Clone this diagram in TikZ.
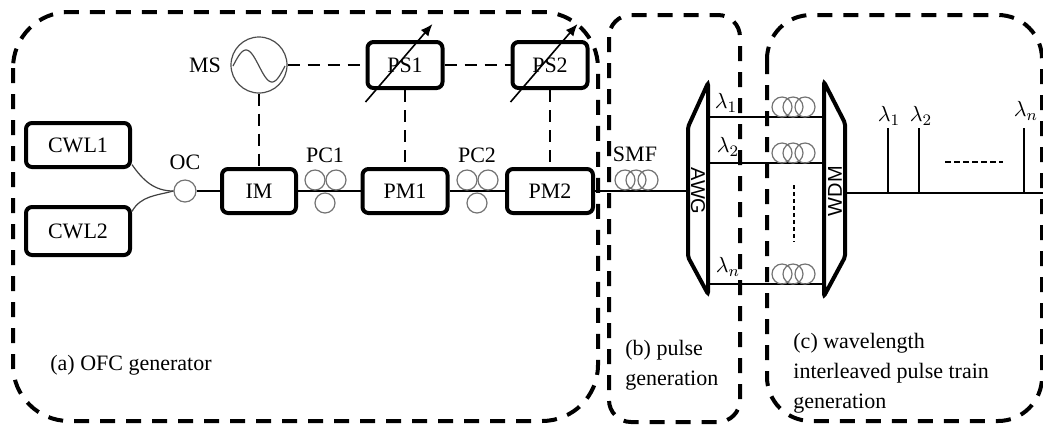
\documentclass[tikz,border=0pt]{standalone}
\usepackage{fontspec}
\setmainfont{Liberation Serif}
\newfontfamily\arialfont{Liberation Sans}
\usepackage{tikz}
\usetikzlibrary{arrows.meta,backgrounds}
\newcommand{\coilcolor}{black!55}
\newcommand{\boxline}{2pt}
\newcommand{\fibreline}{1pt}
\newcommand{\coil}{5pt}

\tikzset{
  dev/.style={draw, line width=\boxline, rounded corners=3pt, minimum height=22pt, inner sep=0pt},
  section/.style={line width=\boxline, dash pattern=on 7.5pt off 5.5pt},
  control/.style={line width=1.3pt, dash pattern=on 6pt off 4pt},
  fibre/.style={line width=\fibreline},
  coilring/.style={draw=\coilcolor, line width=0.6pt},
  lbl/.style={inner sep=0pt}
}

\begin{document}
\begin{tikzpicture}[x=0.5pt, y=-0.5pt, font=\fontsize{11}{15}\selectfont]
\useasboundingbox (0, 0) rectangle (1043, 425);
%sections
\draw[section, rounded corners=28pt] (13, 12) rectangle (598, 421);
\draw[section, rounded corners=11pt] (609, 15) rectangle (740, 422);
\draw[section, rounded corners=22pt] (767, 15) rectangle (1042, 421);
%devices
\node (cwl1) at (78, 145) [dev, minimum width=52pt] {CWL1};
\node (cwl2) at (78, 231) [dev, minimum width=52pt, minimum height=24pt] {CWL2};
\node (oc) at (185, 191) [circle, coilring, minimum size=11pt, inner sep=0pt] {};
\node (im) at (259, 191) [dev, minimum width=37pt] {IM};
\node (pm1) at (405, 191) [dev, minimum width=42.5pt] {PM1};
\node (pm2) at (550, 191) [dev, minimum width=43pt] {PM2};
\node (ps1) at (405, 65) [dev, minimum width=37.5pt, minimum height=23pt] {PS1};
\node (ps2) at (550, 65) [dev, minimum width=37.5pt, minimum height=23pt] {PS2};
\node (ms) at (259, 65) [circle, draw=black!70, line width=0.6pt, minimum size=28pt, inner sep=0pt] {};
\draw[black!70, line width=0.6pt] plot[domain=0:360, samples=50] ({233+0.14444*\x}, {66-16*sin(\x)});
%labels
\node (mslabel) at (205, 65) [lbl] {MS};
\node (oclabel) at (185, 162) [lbl] {OC};
\node (pc1label) at (325, 155) [lbl] {PC1};
\node (pc2label) at (477, 155) [lbl] {PC2};
\node (smflabel) at (635, 154) [lbl] {SMF};
%tuning arrows
\draw[line width=0.8pt, -{Latex[length=6pt, width=5pt]}] ([shift={(0, 12)}]ps1.south west) -- ([shift={(-12, -16)}]ps1.north east);
\draw[line width=0.8pt, -{Latex[length=6pt, width=5pt]}] ([shift={(0, 12)}]ps2.south west) -- ([shift={(-12, -16)}]ps2.north east);
%control lines
\draw[control] (ms.south) -- (im.north);
\draw[control] (ms.east) -- (ps1.west);
\draw[control] (ps1.east) -- (ps2.west);
\draw[control] (ps1.south) -- (pm1.north);
\draw[control] (ps2.south) -- (pm2.north);
%fibre
\draw[black!75, line width=0.6pt] (cwl1.-20) to[out=-55, in=180] (oc.west);
\draw[black!75, line width=0.6pt] (cwl2.20) to[out=60, in=195] (oc.west);
\coordinate (awgin) at (688, 191);
\draw[fibre] (oc.east) -- (im.west);
\draw[fibre] (im.east) -- (pm1.west);
\draw[fibre] (pm1.east) -- (pm2.west);
\draw[fibre] (pm2.east) -- (awgin);
%polarization controllers
\draw[coilring] (315, 180) circle (\coil);
\draw[coilring] (336, 180) circle (\coil);
\draw[coilring] (325, 203) circle (\coil);
\draw[coilring] (467, 180) circle (\coil);
\draw[coilring] (488, 180) circle (\coil);
\draw[coilring] (477, 203) circle (\coil);
%smf
\draw[coilring] (625, 180) circle (\coil);
\draw[coilring] (636, 180) circle (\coil);
\draw[coilring] (648, 180) circle (\coil);
%awg and wdm
\draw[line width=\boxline, rounded corners=1pt] (708, 83) -- (688, 127) -- (688, 257) -- (708, 294) -- cycle;
\draw[line width=\boxline, rounded corners=1pt] (824, 82) -- (845, 123) -- (845, 257) -- (824, 296) -- cycle;
\node (awg) at (698, 191) [lbl, rotate=-90, font=\arialfont\fontsize{10}{12}\selectfont] {AWG};
\node (wdm) at (835, 191) [lbl, rotate=90, font=\arialfont\fontsize{10}{12}\selectfont] {WDM};
\coordinate (a1) at (708, 117);
\coordinate (w1) at (824, 117);
\coordinate (a2) at (708, 163);
\coordinate (w2) at (824, 163);
\coordinate (an) at (708, 284);
\coordinate (wn) at (824, 284);
\draw[fibre] (a1) -- (w1);
\draw[fibre] (a2) -- (w2);
\draw[fibre] (an) -- (wn);
\node (l1) at (726, 103) [lbl] {$\lambda_1$};
\node (l2) at (728, 147) [lbl] {$\lambda_2$};
\node (ln) at (728, 267) [lbl] {$\lambda_n$};
%delay lines
\draw[coilring] (782, 107) circle (\coil);
\draw[coilring] (793, 107) circle (\coil);
\draw[coilring] (805, 107) circle (\coil);
\draw[coilring] (782, 153) circle (\coil);
\draw[coilring] (793, 153) circle (\coil);
\draw[coilring] (805, 153) circle (\coil);
\draw[coilring] (782, 274) circle (\coil);
\draw[coilring] (793, 274) circle (\coil);
\draw[coilring] (805, 274) circle (\coil);
\draw[line width=0.6pt, dash pattern=on 2pt off 1.5pt] (794, 185) -- (794, 242);
%output train
\coordinate (wdmout) at (845, 193);
\coordinate (out) at (1043, 193);
\draw[fibre] (wdmout) -- (out);
\draw[line width=0.8pt] (888, 193) -- (888, 128);
\draw[line width=0.8pt] (919, 193) -- (919, 128);
\draw[line width=0.8pt] (1024, 193) -- (1024, 128);
\node (s1) at (889, 116) [lbl] {$\lambda_1$};
\node (s2) at (921, 116) [lbl] {$\lambda_2$};
\node (sn) at (1026, 111) [lbl] {$\lambda_n$};
\draw[line width=0.7pt, dash pattern=on 3pt off 1.5pt] (945, 162) -- (1003, 162);
%captions
\node (capa) at (50, 365) [lbl, anchor=west] {(a) OFC generator};
\node (capb) at (625, 365) [lbl, anchor=west, align=left] {(b) pulse\\generation};
\node (capc) at (793, 373) [lbl, anchor=west, align=left] {(c) wavelength\\interleaved pulse train\\generation};
\end{tikzpicture}
\end{document}
